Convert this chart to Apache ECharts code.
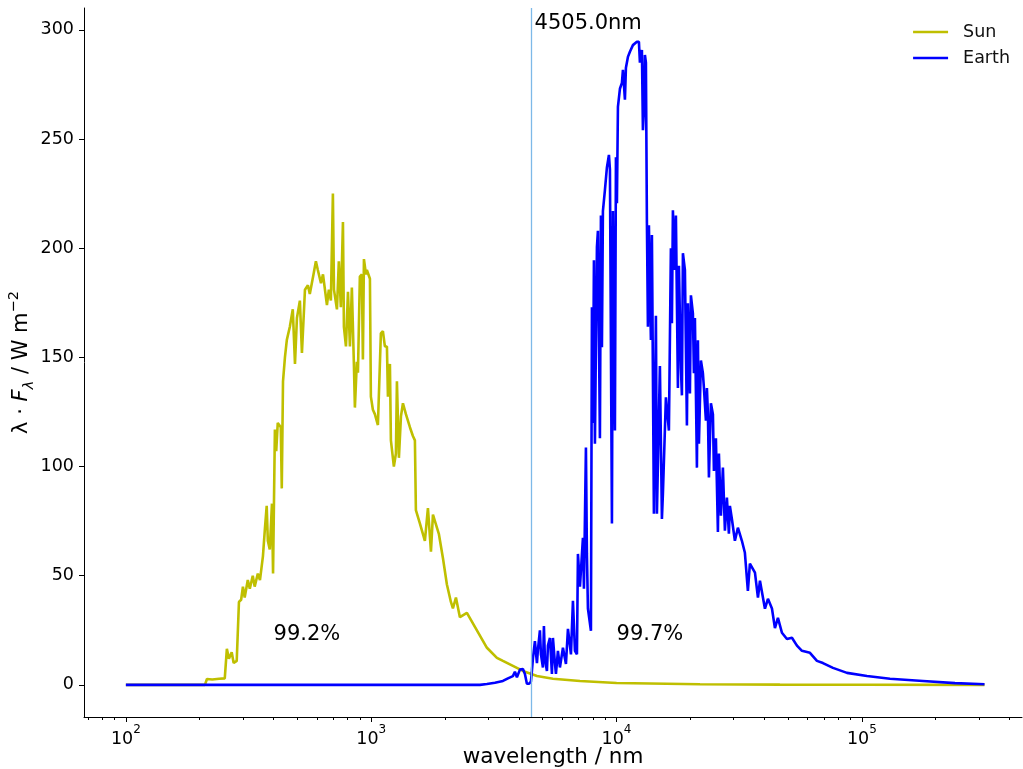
<!DOCTYPE html>
<html><head><meta charset="utf-8">
<script src="https://cdn.jsdelivr.net/npm/echarts@6/dist/echarts.min.js"></script>
<style>html,body{margin:0;padding:0;background:#fff}#c{width:1023px;height:769px}</style>
</head><body><div id="c"></div>
<script>
// ---- data ----
const sunWavelength = [100,210,214,225,240,253,258,263,270,275,283,289,295,300,305,314,320,329,335,345,352,362,369,375,379,386,394,398,405,410,416,428,432,437,445,453,466,479,489,498,512,522,537,552,562,584,595,606,624,636,660,672,685,698,705,725,738,752,767,774,789,804,819,834,850,858,874,883,899,916,925,934,952,960,988,997,1016,1035,1065,1095,1116,1137,1159,1170,1192,1203,1237,1261,1273,1297,1322,1347,1385,1438,1479,1507,1521,1579,1655,1703,1752,1785,1888,1961,2035,2113,2153,2215,2299,2455,2697,2963,3254,3443,3781,4154,4738,5505,7094,10000,21880,46340,100000,316200];
const sunFlux = [0,0,2.7,2.5,2.8,3,16.5,12,15,10,11,38,39,45,40,48,44,50,45,51,48,59,72,82,66,62,83,51,117,107,120,118,90,139,150,158,164,172,147,168,176,152,181,183,179,189,194,190,184,188,174,181,176,225,181,172,194,173,212,164,155,180,155,182,147,127,148,143,187,188,149,195,188,190,186,132,126,124,119,161,162,155,155,132,147,112,100,106,139,104,123,129,124,118,114,112,80,74,66,81,61,78,69,58,46,38,35,40,31,33,25,17,12.4,11,8.7,6.4,4.1,2.8,1.8,0.9,0.3,0.12,0.04,0.01];

const earthWavelength = [100,2774,2963,3194,3443,3609,3781,3853,3926,4039,4154,4232,4312,4394,4477,4519,4562,4648,4738,4781,4872,4919,5012,5058,5106,5203,5252,5352,5454,5505,5609,5662,5769,5878,6047,6220,6338,6519,6642,6768,6896,6961,7094,7295,7364,7503,7573,7645,7864,7938,8013,8088,8164,8319,8397,8556,8637,8718,8800,8967,9137,9311,9399,9577,9667,9850,9943,10037,10132,10323,10519,10619,10819,10921,11128,11338,11662,12107,12337,12454,12689,12809,12930,13052,13175,13299,13425,13551,13807,13938,14201,14471,14607,14745,15024,15309,15453,15894,16195,16348,16657,16815,16973,17295,17459,17790,17958,18298,18470,18645,18998,19358,19541,19911,20099,20480,20673,20868,21264,21465,21668,22078,22495,22708,23138,23356,23577,23800,24250,24709,24942,25414,25895,26140,26634,27138,27651,28174,28707,28978,29526,30370,31237,32432,33358,34309,34960,36662,37708,38423,40267,41415,42999,44226,45487,47226,49498,51880,54377,56994,61428,65600,69400,76240,86970,104900,130200,177500,239600,316200];
const earthFlux = [0,0,0.4,1,1.8,3,4,6,3.5,7,7.3,5,0.5,0.5,1.5,6.4,12,20,10,16,25,14,8,27,12,6.4,18,21.5,5,21.5,10,5,15.6,8,17,9.6,25.7,14,38.5,15.6,14,60,45,67.4,44,108.7,60,35,24.8,173,120,194.5,110.5,200.5,208,113,215,154.6,217,226.6,237,242.7,236,73.9,217,116.5,241.7,220.6,264.7,273,275.7,281.7,268,282.6,287.6,290,293,294.5,294.5,285,290.8,254,263,288.5,285,211.5,164,210.5,158,206,78.4,169,78.4,77.5,146,76,87.6,131.7,131,116.5,200,165.6,217.4,190,215,136,192,145,132.6,197.7,190,118.8,174.8,133.5,178.4,170,142.7,168,99.5,157.8,110.5,148.6,142.7,136,121,136,124,95,129,124,98,113,70,106,77.5,99.5,70.6,85.8,69.3,82,76,66,72,66,60.5,43,55.5,51.4,40,47.7,34.9,39.4,35,26,30.7,23.9,21,21.6,18,15.6,14.7,11,10,7.8,5.5,4.1,2.8,1.8,0.8,0.3];

const yTicks = [0,50,100,150,200,250,300];
const xMajorTicks = [100,1000,10000,100000];
const xMinorTicks = [70,80,90,200,300,400,500,600,700,800,900,2000,3000,4000,5000,6000,7000,8000,9000,20000,30000,40000,50000,60000,70000,80000,90000,200000,300000,400000];
const splitWavelength = 4505.0;
const annotationLabels = ['99.2%','99.7%','4505.0nm'];
const annotationX = [400,10000,4505];
const annotationY = [20,20,300];

// ---- chart ----
const FONT = 'DejaVu Sans';
const zip = (a,b) => a.map((v,i) => [v,b[i]]);
const chart = echarts.init(document.getElementById('c'), null, {renderer:'canvas'});
const xCommon = {type:'log', logBase:10, min:67.5, max:449500, splitLine:{show:false}};
chart.setOption({
  animation:false,
  backgroundColor:'#fff',
  textStyle:{fontFamily:FONT},
  grid:{left:84, right:1, top:8, bottom:52, containLabel:false, outerBoundsMode:'none'},
  legend:{
    data:['Sun','Earth'], orient:'vertical', right:8, top:18,
    icon:'rect', itemWidth:35, itemHeight:2.5, itemGap:8,
    textStyle:{fontFamily:FONT, fontSize:17.5, color:'#111', padding:[0,0,0,10]}
  },
  xAxis:[
    Object.assign({}, xCommon, {
      position:'bottom',
      name:'wavelength / nm', nameLocation:'middle', nameGap:29, nameMoveOverlap:false,
      nameTextStyle:{fontFamily:FONT, fontSize:21.5, color:'#000'},
      axisLine:{show:true, onZero:false, lineStyle:{color:'#000', width:1}},
      axisTick:{show:true, length:5, customValues:xMajorTicks, lineStyle:{color:'#000'}},
      axisLabel:{show:true, margin:7, customValues:xMajorTicks, color:'#000',
        fontFamily:FONT, fontSize:17.5, lineHeight:24,
        formatter: v => '{m|10}{s|' + Math.round(Math.log10(v)) + '}',
        rich:{
          m:{fontFamily:FONT, fontSize:17.5, lineHeight:24, verticalAlign:'bottom', color:'#000'},
          s:{fontFamily:FONT, fontSize:12, lineHeight:13, verticalAlign:'top', color:'#000'}
        }}
    }),
    Object.assign({}, xCommon, {
      position:'bottom', offset:0,
      axisLine:{show:false, onZero:false},
      axisTick:{show:true, length:3, customValues:xMinorTicks, lineStyle:{color:'#000'}},
      axisLabel:{show:false}
    })
  ],
  yAxis:{
    type:'value', min:-14.7, max:310,
    splitLine:{show:false},
    axisLine:{show:true, onZero:false, lineStyle:{color:'#000', width:1}},
    axisTick:{show:true, length:5, customValues:yTicks, lineStyle:{color:'#000'}},
    axisLabel:{show:true, margin:10, customValues:yTicks, color:'#000', fontFamily:FONT, fontSize:17.5},
    name:'{a|λ · }{b|F}{c|λ}{a| / W m}{d|−2}', nameLocation:'middle', nameGap:47, nameMoveOverlap:false,
    nameTextStyle:{fontFamily:FONT, fontSize:21, color:'#000',
      rich:{
        a:{fontFamily:FONT, fontSize:21, lineHeight:30, verticalAlign:'middle', color:'#000'},
        b:{fontFamily:FONT, fontSize:21, lineHeight:30, fontStyle:'italic', verticalAlign:'middle', color:'#000'},
        c:{fontFamily:FONT, fontSize:14.5, lineHeight:16, fontStyle:'italic', verticalAlign:'bottom', color:'#000'},
        d:{fontFamily:FONT, fontSize:14.5, lineHeight:16, verticalAlign:'top', color:'#000'}
      }}
  },
  series:[
    {
      name:'Sun', type:'line', xAxisIndex:0, data:zip(sunWavelength, sunFlux),
      showSymbol:false, symbol:'none', lineStyle:{color:'#bfbf00', width:2.6}, itemStyle:{color:'#bfbf00'},
      z:2,
      markLine:{
        silent:true, symbol:'none', animation:false,
        lineStyle:{color:'#7db9e8', width:1.3, type:'solid', opacity:1},
        emphasis:{disabled:true},
        label:{show:false},
        data:[{xAxis:splitWavelength}]
      },
      markPoint:{
        silent:true, symbol:'rect', symbolSize:0, animation:false,
        label:{show:true, position:[0,0], align:'left', verticalAlign:'bottom', offset:[0,4],
          formatter:'{b}', fontFamily:FONT, fontSize:21, color:'#000'},
        data: annotationLabels.map((t,i) => ({
          name:t, coord:[annotationX[i], annotationY[i]],
          label:{offset:[annotationX[i] === splitWavelength ? 3 : 0, 4]}
        }))
      }
    },
    {
      name:'Earth', type:'line', xAxisIndex:0, data:zip(earthWavelength, earthFlux),
      showSymbol:false, symbol:'none', lineStyle:{color:'#0000ff', width:2.6}, itemStyle:{color:'#0000ff'},
      z:3
    }
  ]
});
</script></body></html>
